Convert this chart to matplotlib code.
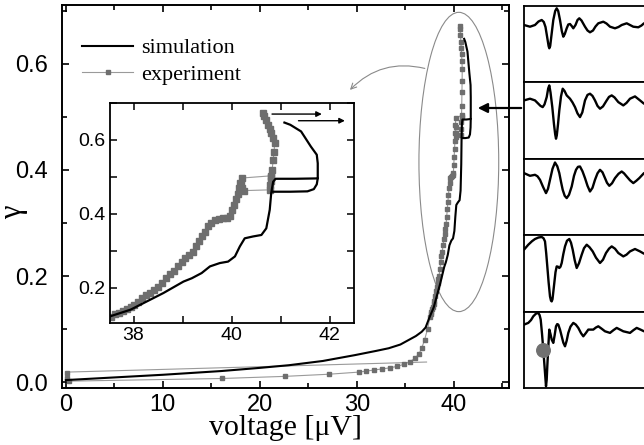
import matplotlib
matplotlib.use('Agg')
import matplotlib.pyplot as plt
from matplotlib.patches import Ellipse
from matplotlib.lines import Line2D
from matplotlib.ticker import MultipleLocator

# simulation: forward sweep and the short backward branch of the loop
sim_v = [0, 5, 10, 16, 20, 23, 26.5, 29.8, 32, 33.3, 34.5, 35.3, 36.1, 36.7, 37.1,
         37.5, 37.94, 38.61, 39.02, 39.19, 39.39, 39.56, 39.76, 39.93, 40.07, 40.17,
         40.27, 40.44, 40.61, 40.71, 40.78, 40.81, 40.85, 40.9, 41.3, 41.76, 41.76,
         41.74, 41.62, 41.42, 41.2, 41.08]
sim_g = [0.004, 0.009, 0.014, 0.021, 0.027, 0.032, 0.040, 0.051, 0.059, 0.064, 0.071,
         0.079, 0.087, 0.095, 0.103, 0.122, 0.141, 0.186, 0.217, 0.226, 0.240, 0.258,
         0.267, 0.271, 0.285, 0.312, 0.334, 0.339, 0.343, 0.361, 0.411, 0.456, 0.487,
         0.495, 0.495, 0.496, 0.537, 0.560, 0.582, 0.623, 0.641, 0.647]
sim_back_v = [40.85, 41.2, 41.55, 41.68, 41.74, 41.76]
sim_back_g = [0.460, 0.460, 0.461, 0.467, 0.480, 0.496]

# experiment: forward sweep
exp_v = [0.1, 0.15, 0.3, 16.1, 22.6, 27.1, 30.2, 31.0, 31.8, 32.6, 33.4, 34.2, 34.9,
         35.5, 36.0, 36.4, 36.7, 37.0, 37.3,
         37.55, 37.62, 37.70, 37.78, 37.86, 37.94, 38.02, 38.10, 38.18, 38.26, 38.34,
         38.42, 38.50, 38.58, 38.66, 38.74, 38.82, 38.90, 38.98, 39.06, 39.14, 39.22,
         39.28, 39.34, 39.40, 39.46, 39.52, 39.58, 39.66, 39.74, 39.82, 39.90, 39.97,
         40.01, 40.05, 40.09, 40.13, 40.16, 40.18, 40.21,
         40.81, 40.83, 40.85, 40.87, 40.88, 40.85, 40.81, 40.78, 40.74, 40.70, 40.66,
         40.64]
exp_g = [0.018, 0.008, 0.002, 0.007, 0.011, 0.015, 0.019, 0.021, 0.023, 0.025, 0.027,
         0.030, 0.034, 0.039, 0.045, 0.053, 0.064, 0.080, 0.100,
         0.122, 0.128, 0.133, 0.138, 0.142, 0.147, 0.153, 0.163, 0.172, 0.180, 0.186,
         0.194, 0.201, 0.213, 0.226, 0.238, 0.246, 0.258, 0.270, 0.280, 0.288, 0.298,
         0.312, 0.326, 0.340, 0.352, 0.366, 0.376, 0.384, 0.386, 0.388, 0.390, 0.395,
         0.410, 0.425, 0.440, 0.455, 0.470, 0.484, 0.497,
         0.503, 0.520, 0.546, 0.568, 0.591, 0.606, 0.618, 0.630, 0.641, 0.655, 0.665,
         0.672]
# experiment: backward jump and return line
exp_back_v = [40.81, 40.80, 40.79, 40.78, 40.25, 40.22, 40.20]
exp_back_g = [0.500, 0.490, 0.478, 0.465, 0.463, 0.470, 0.480]
exp_ret_v = [37.2, 0.0]
exp_ret_g = [0.038, 0.019]

# waveforms in the right-hand panels (time in px, signal in arb. units)
wave_1 = [(0, 1), (6, -0.7), (11, 1), (14.5, 4.5), (17.7, 6), (19.8, 4), (21.5, -1),
          (23.3, -12), (24.6, -20), (25.3, -22.3), (26.2, -20), (27.5, -9), (29.3, 6),
          (31.2, 15), (32.7, 17.7), (34.2, 15), (36, 6), (37.8, -5), (39.3, -10.7),
          (40.8, -8), (42.7, -2.3), (44.3, 1.5), (46, 2), (47.7, 0), (49.3, -2.3),
          (51.5, 1), (53.5, 6), (55.3, 7.7), (57.5, 5.5), (61, -0.7), (63.5, -4.5),
          (66, -6.3), (69, -4.5), (71.5, -0.5), (74.3, 2.7), (79.3, 4.3), (82.5, 2.5),
          (86, -0.7), (91, -2.3), (94.5, -1), (97.7, 1), (102.7, 2.7), (106, 1),
          (109.3, -0.7), (114.3, -1.3), (117.5, 0.5), (120, 2.7)]
wave_2 = [(0, 2), (6, 3.7), (11, 2), (14.3, -1.3), (16.5, -3.5), (18.7, -4.7),
          (20.5, -2), (22.7, 5.3), (24.2, 14), (25.3, 17), (26.5, 10), (28.3, -4.7),
          (30, -22), (31.2, -32), (32, -36.3), (32.8, -33), (34, -22), (35.3, -8),
          (37, 6), (38.7, 13.7), (40.5, 11.5), (42.7, 7), (46, 3.7), (48.5, 0),
          (51, -4.7), (53.5, -11), (56, -14.7), (58.3, -10), (61, 2), (63.5, 7.5),
          (66, 8.7), (68.5, 6.5), (71, 2), (73.5, -3.5), (76, -6.3), (79, -4),
          (82.7, 2), (85, 5.5), (87.7, 7), (90.5, 5), (94.3, 0.3), (99.3, -3),
          (102.5, -0.5), (106, 3.7), (111, 6), (116, 2), (120, -1.3)]
wave_3 = [(0, 5.7), (6, 3), (11, 4), (13.5, 2.5), (16, -1), (19, -8), (22, -14.3),
          (24, -10), (26, -1), (28.5, 10), (31, 16.3), (33.3, 12.5), (35.3, 5.7),
          (37, -3), (38.7, -11), (40.7, -17), (42.7, -19.3), (45, -16), (47.7, -7.7),
          (50, 3), (52, 9), (54, 12), (56, 12.3), (58.5, 7.5), (61, 0.7), (63.5, -7),
          (66, -12.7), (68.5, -9), (71, -1), (73.5, 5.5), (76, 9), (78.5, 6.5),
          (81, 0.7), (83, -4), (85.3, -7), (88, -4.5), (91, 0.7), (94.5, 5),
          (97.7, 7.3), (100, 5.5), (102.7, 2.3), (106, -1.5), (109.3, -4.3),
          (112.3, -2), (115.3, 0.7), (120, 5.7)]
wave_4 = [(0, 5.5), (4.3, 10.5), (8, 14), (11, 16.2), (14.5, 17.7), (17.7, 18.2),
          (19.5, 17), (21, 13.8), (22.2, 2), (23.3, -11.2), (24.6, -27), (26, -41.2),
          (27, -45.5), (27.7, -46.2), (28.5, -44), (30.3, -27.8), (31.5, -17),
          (32.7, -11.2), (34, -11.5), (35.3, -12.8), (36.5, -11.5), (37.7, -7.8),
          (39.3, 1), (41, 8.8), (43, 14.5), (45.3, 16.2), (47, 12.5), (48.7, 5.5),
          (50.7, -5), (52.7, -12.8), (55, -8), (57.7, 0.5), (60, 7), (62.7, 10.5),
          (65.5, 8), (68.7, 3.8), (72, -2.5), (76, -7.8), (79, -4.5), (82, 2.2),
          (85, 6.5), (87.7, 8.8), (91, 6.5), (94.3, 2.2), (99.3, -1.2), (102.5, 0.5),
          (106, 3.8), (111, 6.2), (116, 3.8), (120, 1.5)]
wave_5 = [(0, 7), (4.3, 8.7), (7, 11.5), (9.3, 15.3), (12, 18), (14.3, 18.7),
          (15.6, 16.5), (16.7, 12), (18, -2), (19.3, -18), (20.7, -37), (22, -54.7),
          (22.7, -48), (23.3, -34.7), (24.3, -15), (25.3, 2), (26.5, -2.5), (27.7, -8),
          (29.3, -11.3), (30.6, -4), (32, 5.3), (33.2, 7.5), (34.3, 7), (36, 2),
          (37.7, -4.7), (39.3, -11), (41, -14.7), (42.7, -9), (44.3, -1.3), (46.5, 5),
          (49.3, 8.7), (51.8, 7), (54.3, 3.7), (57, -1.5), (59.3, -4.7), (61.8, -1.5),
          (64.3, 2), (69.3, 2), (71.8, 4), (74.3, 5.3), (77.5, 3), (81, 0.3),
          (86, -1.3), (89.5, 1.5), (92.7, 3.7), (96, 2), (99.3, 0.3), (106, -1.3),
          (109.5, 1.5), (112.7, 3.7), (116.5, 2), (120, 0.3)]
waves = [wave_1, wave_2, wave_3, wave_4, wave_5]
dot_t, dot_s = 18.7, -18

GRAY = '#6e6e6e'
LGRAY = '#9a9a9a'
SERIF = ['Liberation Serif', 'DejaVu Serif']
plt.rcParams['font.family'] = ['Liberation Sans', 'DejaVu Sans']

fig = plt.figure(figsize=(6.44, 4.45), dpi=100)

# main panel
ax = fig.add_axes([0.0963, 0.128, 0.694, 0.861])
ax.plot(exp_ret_v, exp_ret_g, color=LGRAY, lw=0.8)
ax.plot(exp_v, exp_g, color=LGRAY, lw=0.8, marker='s', ms=2.4, mfc=GRAY, mec=GRAY)
ax.plot(exp_back_v, exp_back_g, color=LGRAY, lw=0.8, marker='s', ms=2.4, mfc=GRAY, mec=GRAY)
ax.plot(sim_v, sim_g, color='black', lw=1.5)
ax.plot(sim_back_v, sim_back_g, color='black', lw=1.5)
ax.add_patch(Ellipse((40.53, 0.415), 8.23, 0.564, fill=False, ec='#8a8a8a', lw=0.8))
ax.annotate('', xy=(29.1, 0.547), xytext=(37.3, 0.59),
            arrowprops=dict(arrowstyle='->', color='#8a8a8a', lw=0.8,
                            connectionstyle='arc3,rad=0.3'))
ax.set_xlim(-0.4, 45.7)
ax.set_ylim(-0.011, 0.711)
ax.xaxis.set_major_locator(MultipleLocator(10))
ax.xaxis.set_minor_locator(MultipleLocator(5))
ax.yaxis.set_major_locator(MultipleLocator(0.2))
ax.yaxis.set_minor_locator(MultipleLocator(0.1))
ax.tick_params(which='both', direction='in', top=True, right=True, labelsize=17)
ax.tick_params(axis='x', pad=4)
ax.tick_params(axis='y', pad=10)
ax.tick_params(which='major', length=5, width=1.2)
ax.tick_params(which='minor', length=3.5, width=1.2)
for s in ax.spines.values():
    s.set_linewidth(1.4)
ax.set_xlabel('voltage [μV]', family=SERIF, fontsize=21.5)
ax.xaxis.set_label_coords(0.5, -0.071)
ax.set_ylabel('γ', family=SERIF, fontsize=22)
ax.yaxis.set_label_coords(-0.075, 0.46)

handles = [Line2D([], [], color='black', lw=1.5),
           Line2D([], [], color=LGRAY, lw=0.8, marker='s', ms=2.4, mfc=GRAY, mec=GRAY)]
ax.legend(handles, ['simulation', 'experiment'], loc='upper left',
          bbox_to_anchor=(0.045, 0.914), frameon=False, borderpad=0, borderaxespad=0,
          handlelength=2.3, handletextpad=0.35, labelspacing=0.25,
          prop={'family': SERIF, 'size': 16})

ax.annotate('', xy=(475, 337), xytext=(524, 337), xycoords='figure pixels',
            textcoords='figure pixels', annotation_clip=False,
            arrowprops=dict(arrowstyle='-|>', color='black', lw=1.6, mutation_scale=14))

# inset
ins = fig.add_axes([0.1708, 0.2742, 0.3789, 0.4944])
ins.plot(exp_v, exp_g, color=LGRAY, lw=0.8, marker='s', ms=5.0, mfc=GRAY, mec=GRAY)
ins.plot(exp_back_v, exp_back_g, color=LGRAY, lw=0.8, marker='s', ms=5.0, mfc=GRAY, mec=GRAY)
ins.plot(sim_v, sim_g, color='black', lw=1.6)
ins.plot(sim_back_v, sim_back_g, color='black', lw=1.6)
ins.annotate('', xy=(41.9, 0.670), xytext=(40.77, 0.670),
             arrowprops=dict(arrowstyle='-|>', color='black', lw=1.0, mutation_scale=8))
ins.annotate('', xy=(42.37, 0.652), xytext=(41.31, 0.652),
             arrowprops=dict(arrowstyle='-|>', color='black', lw=1.0, mutation_scale=8))
ins.set_xlim(37.52, 42.5)
ins.set_ylim(0.105, 0.70)
ins.xaxis.set_major_locator(MultipleLocator(2))
ins.xaxis.set_minor_locator(MultipleLocator(1))
ins.yaxis.set_major_locator(MultipleLocator(0.2))
ins.yaxis.set_minor_locator(MultipleLocator(0.1))
ins.tick_params(which='both', direction='in', top=True, right=True, labelsize=14, pad=3)
ins.tick_params(which='major', length=5, width=1.1)
ins.tick_params(which='minor', length=5, width=1.1)
for s in ins.spines.values():
    s.set_linewidth(1.3)

# waveform panels on the right
top_px, h_px = 6, 76.4
for k, w in enumerate(waves):
    b = 1 - (top_px + h_px * (k + 1)) / 445
    p = fig.add_axes([524 / 644, b, 0.25, h_px / 445])
    t = [q[0] for q in w]
    sig = [q[1] for q in w]
    p.plot(t, sig, color='black', lw=1.7, solid_joinstyle='round', solid_capstyle='round')
    if k == 4:
        p.scatter([dot_t], [dot_s], s=95, color='#707070', zorder=3)
    p.set_xlim(0, 161)
    p.set_ylim(-56.4, 20)
    p.set_xticks([])
    p.set_yticks([])
    for s in p.spines.values():
        s.set_linewidth(1.3)

fig.savefig('out.png', dpi=100)
